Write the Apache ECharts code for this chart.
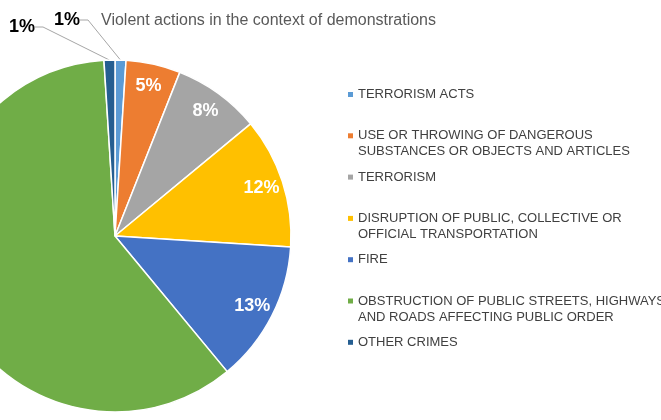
<!DOCTYPE html>
<html>
<head>
<meta charset="utf-8">
<script src="https://cdn.jsdelivr.net/npm/echarts@6/dist/echarts.min.js"></script>
<style>
html,body{margin:0;padding:0;background:#fff;}
#chart{width:661px;height:420px;}
</style>
</head>
<body>
<div id="chart"></div>
<script>
const titleText = 'Violent actions in the context of demonstrations';
const categories = [
  'TERRORISM ACTS',
  'USE OR THROWING OF DANGEROUS\nSUBSTANCES OR OBJECTS AND ARTICLES',
  'TERRORISM',
  'DISRUPTION OF PUBLIC, COLLECTIVE OR\nOFFICIAL TRANSPORTATION',
  'FIRE',
  'OBSTRUCTION OF PUBLIC STREETS, HIGHWAYS\nAND ROADS AFFECTING PUBLIC ORDER',
  'OTHER CRIMES'
];
const values = [1, 5, 8, 12, 13, 60, 1];
const colors = ['#5B9BD5', '#ED7D31', '#A5A5A5', '#FFC000', '#4472C4', '#70AD47', '#255E91'];
const insideLabelIdx = [1, 2, 3, 4];
const outsideLabelIdx = [0, 6];

const font = '"Liberation Sans", Arial, sans-serif';
const chart = echarts.init(document.getElementById('chart'), null, {renderer: 'canvas'});

const rich = {
  t: {fontSize: 13, color: '#404040', lineHeight: 16, fontFamily: font},
  g: {width: 5, height: 5},
  s: {width: 10, height: 5}
};
colors.forEach((c, i) => {
  rich['m' + i] = {width: 5, height: 5, backgroundColor: c, verticalAlign: 'middle'};
});

// label anchor points for the two small outside labels (layout only)
const outsidePos = {0: [67, 20], 6: [22, 27]};

const mainData = categories.map((n, i) => ({
  name: n,
  value: values[i],
  itemStyle: {color: colors[i]},
  label: {show: outsideLabelIdx.includes(i)},
  labelLine: {show: outsideLabelIdx.includes(i)}
}));
const overlayData = categories.map((n, i) => ({
  name: n,
  value: values[i],
  label: {show: insideLabelIdx.includes(i)}
}));

chart.setOption({
  animation: false,
  backgroundColor: '#ffffff',
  title: {
    text: titleText,
    left: 101,
    top: 13,
    padding: 0,
    textStyle: {fontSize: 16, fontWeight: 'normal', color: '#595959', fontFamily: font}
  },
  legend: {
    orient: 'vertical',
    left: 342,
    top: 88,
    padding: 0,
    itemWidth: 0,
    itemHeight: 0,
    itemGap: 12.3,
    icon: 'rect',
    selectedMode: false,
    data: categories,
    formatter: function (name) {
      const i = categories.indexOf(name);
      const lines = name.split('\n');
      if (lines.length < 2) lines.push(' ');
      return '{m' + i + '|}{g|}{t|' + lines[0] + '}\n{s|}{t|' + lines[1] + '}';
    },
    textStyle: {rich: rich}
  },
  series: [
    {
      type: 'pie',
      center: [115, 236],
      radius: 176,
      startAngle: 90,
      clockwise: true,
      silent: true,
      itemStyle: {borderColor: '#ffffff', borderWidth: 1.5},
      label: {
        position: 'outside',
        formatter: '{c}%',
        fontSize: 18,
        fontWeight: 'bold',
        color: '#000000',
        fontFamily: font
      },
      labelLine: {length: 8, length2: 8, lineStyle: {color: '#A6A6A6', width: 1}},
      labelLayout: function (params) {
        const p = outsidePos[params.dataIndex];
        if (p) return {x: p[0], y: p[1], align: 'center', verticalAlign: 'middle'};
        return {};
      },
      data: mainData
    },
    {
      type: 'pie',
      center: [115, 236],
      radius: [126, 176],
      startAngle: 90,
      clockwise: true,
      silent: true,
      itemStyle: {color: 'rgba(0,0,0,0)', borderWidth: 0},
      label: {
        position: 'inside',
        formatter: '{c}%',
        fontSize: 18,
        fontWeight: 'bold',
        color: '#ffffff',
        fontFamily: font
      },
      labelLine: {show: false},
      data: overlayData
    }
  ]
});
</script>
</body>
</html>
